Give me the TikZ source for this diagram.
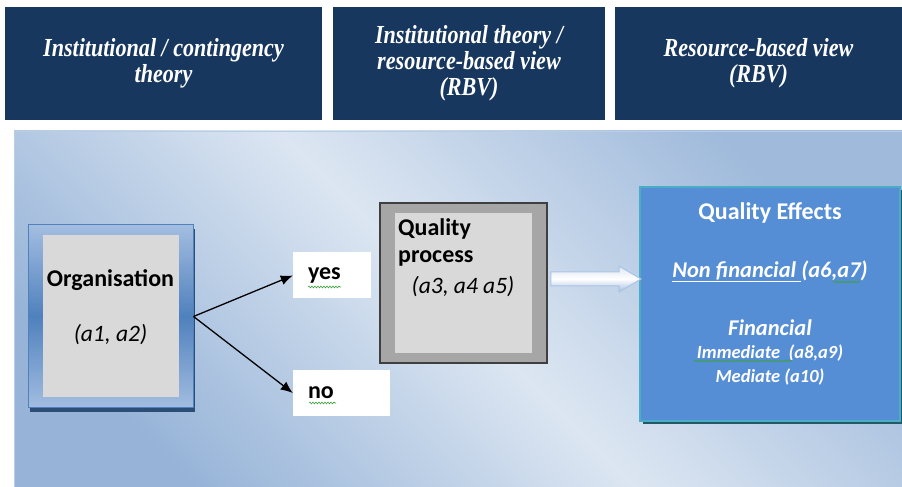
\documentclass[tikz,border=0pt]{standalone}
\usepackage{fontspec}
\setmainfont{Carlito}
\newfontfamily\headfont[FakeStretch=0.85]{Liberation Serif}
\usetikzlibrary{arrows.meta,decorations.pathmorphing,calc}

\definecolor{navy}{HTML}{17375E}
\definecolor{panellight}{HTML}{DCE6F2}
\definecolor{paneldark}{HTML}{97B4D8}
\definecolor{panelline}{HTML}{B9CDE5}
\definecolor{frameblue}{HTML}{4F81BD}
\definecolor{framelight}{HTML}{A3BDE0}
\definecolor{frameshadow}{HTML}{2C4D75}
\definecolor{boxgrey}{HTML}{D9D9D9}
\definecolor{midgrey}{HTML}{A6A6A6}
\definecolor{darkgrey}{HTML}{3F3F3F}
\definecolor{effectblue}{HTML}{558ED5}
\definecolor{effectline}{HTML}{4BACC6}
\definecolor{effectshadow}{HTML}{215968}
\definecolor{arrowline}{HTML}{A9C3E3}
\definecolor{squiggle}{HTML}{3CA03C}

\tikzset{
  head/.style={fill=navy, minimum height=113pt, inner sep=0pt, text=white,
    font=\headfont\bfseries\itshape\fontsize{26}{26}\selectfont, align=center},
  bodybold/.style={inner sep=0pt, font=\bfseries\fontsize{24}{27}\selectfont},
  bodyit/.style={inner sep=0pt, font=\itshape\fontsize{23.5}{27}\selectfont},
  choice/.style={fill=white, inner xsep=15pt, inner ysep=0pt, minimum height=46pt,
    align=left, font=\bfseries\fontsize{24}{26}\selectfont},
  fork/.style={line width=1.3pt, -{Latex[length=12pt,width=10pt]}},
  squig/.style={draw=squiggle, line width=0.6pt, decorate,
    decoration={snake, amplitude=0.9pt, segment length=3pt}},
  whitetext/.style={inner sep=0pt, text=white},
  blockarrow/.style={draw=arrowline, line width=1pt, line join=miter,
    top color=panellight, bottom color=framelight, middle color=white},
}

\begin{document}
\begin{tikzpicture}[x=1pt,y=1pt]
\useasboundingbox (0,0) rectangle (902,487);
\fill[white] (0,0) rectangle (902,487);

% theory headers
\node[head, minimum width=317pt] (h1) at (163.5,423.5) {Institutional / contingency\\theory};
\node[head, minimum width=272pt] (h2) at (469,423.5) {Institutional theory /\\resource-based view\\(RBV)};
\node[head, minimum width=287pt] (h3) at (758.5,423.5) {Resource-based view\\(RBV)};

% shaded panel
\shade[shading=axis, bottom color=paneldark, top color=paneldark!92!white, middle color=panellight, shading angle=-45]
  (14,0) rectangle (902,356);
\draw[panelline, line width=1pt] (14.5,0) -- (14.5,355.5) -- (902,355.5);

% organisation
\fill[frameshadow] (30,75) rectangle (195,258);
\node[minimum width=165pt, minimum height=183pt, inner sep=0pt, draw=frameblue, line width=1pt,
  top color=framelight, bottom color=framelight, middle color=frameblue] (org) at (110.5,170.5) {};
\node[fill=boxgrey, minimum width=136pt, minimum height=162pt, inner sep=0pt] (orgin) at (org.center) {};
\node[bodybold] (orgname) at ([yshift=36.5pt]orgin.center) {Organisation};
\node[bodyit] (orgref) at ([yshift=-18.5pt]orgin.center) {(a1, a2)};

% yes / no
\node[choice, text width=48pt] (yes) at (332,211.5) {yes};
\node[choice, text width=67pt] (no) at (341.5,94) {no};
\draw[fork] (org.east) -- (yes.west);
\draw[fork] (org.east) -- (no.west);
\draw[squig] (308,200) -- (341,200);
\draw[squig] (309,84) -- (336,84);

% quality process
\node[fill=midgrey, draw=darkgrey, line width=1.5pt, minimum width=167pt, minimum height=160pt, inner sep=0pt]
  (qp) at (463.5,204) {};
\node[fill=boxgrey, minimum width=137pt, minimum height=140pt, inner sep=0pt] (qpin) at (qp.center) {};
\node[bodybold, anchor=west] (qp1) at (398,258) {Quality};
\node[bodybold, anchor=west] (qp2) at (398,229) {process};
\node[bodyit] (qp3) at (463,200) {(a3, a4 a5)};

% quality effects
\fill[effectshadow] (643,63) rectangle (903,297);
\node[fill=effectblue, draw=effectline, line width=2pt, minimum width=260pt, minimum height=234pt, inner sep=0pt]
  (qe) at (770,183) {};
\node[whitetext, font=\bfseries\fontsize{24}{26}\selectfont] (qe1) at ([yshift=91pt]qe.center) {Quality Effects};
\node[whitetext, font=\bfseries\itshape\fontsize{22.5}{26}\selectfont] (qe2) at ([yshift=33pt]qe.center)
  {\underline{Non financial }(a6,a7)};
\node[whitetext, font=\bfseries\itshape\fontsize{22.5}{26}\selectfont] (qe3) at ([yshift=-24pt]qe.center) {Financial};
\node[whitetext, font=\bfseries\itshape\fontsize{18.5}{22}\selectfont] (qe4) at ([yshift=-49pt]qe.center) {Immediate~ (a8,a9)};
\node[whitetext, font=\bfseries\itshape\fontsize{18.5}{22}\selectfont] (qe5) at ([yshift=-73pt]qe.center) {Mediate (a10)};
\draw[squig] (833,205) -- (860,205);
\draw[squig] (694,126) -- (792,126);

% block arrow from process to effects
\coordinate (ftail) at ($(qp.east)+(3,4)$);
\coordinate (ftip) at ($(qe.west)+(2,25)$);
\draw[blockarrow]
  ($(ftail)+(0,7)$) -- ($(ftip)+(-22,7)$) -- ($(ftip)+(-22,13)$) -- (ftip)
  -- ($(ftip)+(-22,-13)$) -- ($(ftip)+(-22,-7)$) -- ($(ftail)+(0,-7)$) -- cycle;
\end{tikzpicture}
\end{document}
